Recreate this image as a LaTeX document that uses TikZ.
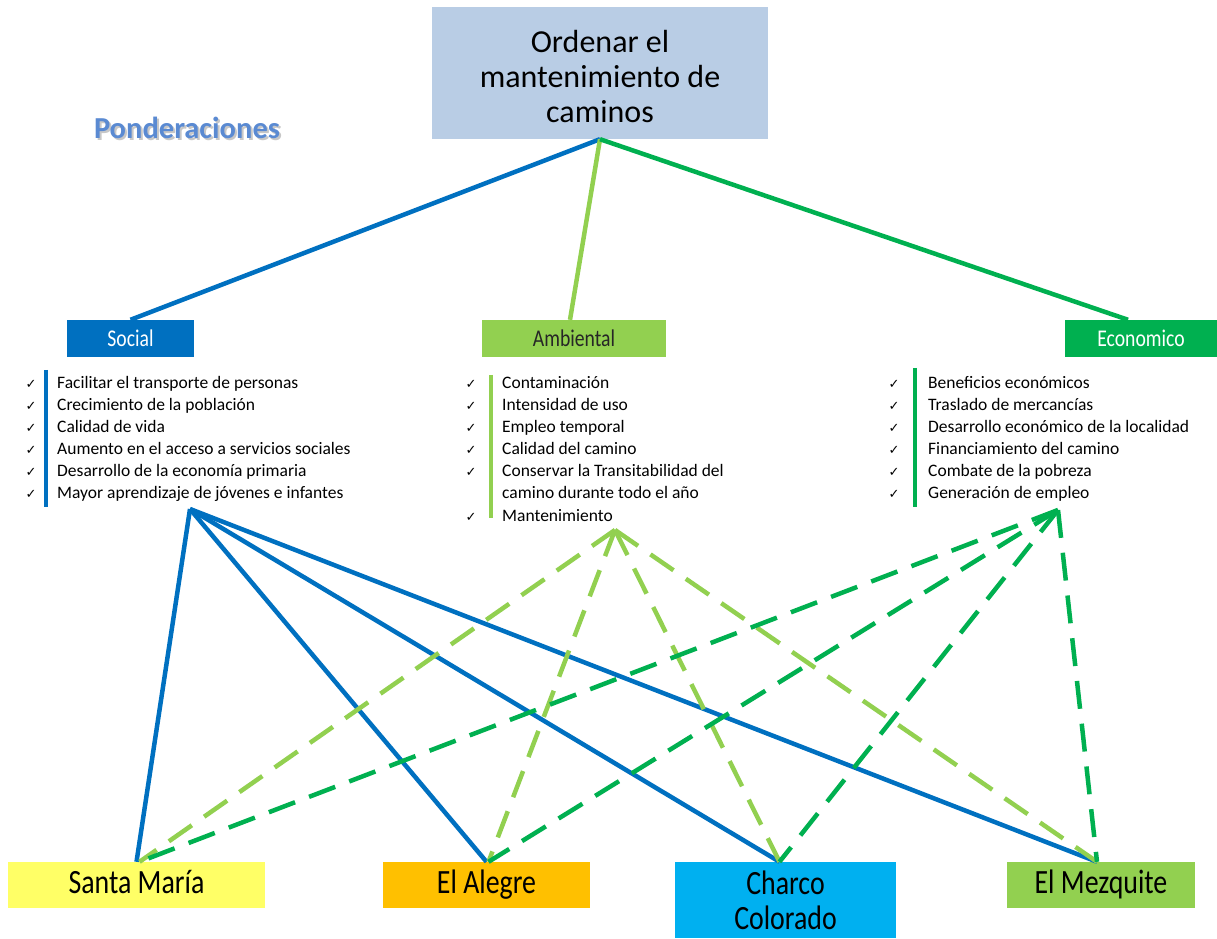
\documentclass[tikz,border=0pt]{standalone}
\usepackage{fontspec}
\setmainfont{Carlito}
\newfontfamily\narrowfont[FakeStretch=0.82]{Carlito}
\newfontfamily\symfont{DejaVu Sans}
\definecolor{topfill}{HTML}{B9CDE5}
\definecolor{cblue}{HTML}{0070C0}
\definecolor{clgreen}{HTML}{92D050}
\definecolor{cgreen}{HTML}{00B050}
\definecolor{cyellow}{HTML}{FFFF66}
\definecolor{corange}{HTML}{FFC000}
\definecolor{ccyan}{HTML}{00B0F0}
\definecolor{ptitle}{HTML}{5A8AD2}
\tikzset{
  catbox/.style={minimum height=37pt, inner sep=0pt, font=\narrowfont\fontsize{24}{26}\selectfont},
  placebox/.style={minimum height=46pt, inner sep=0pt, font=\narrowfont\fontsize{34}{35}\selectfont, align=center},
  oneline/.style={text height=23pt, text depth=7pt},
  link/.style={line width=4.5pt},
  dlink/.style={line width=4.5pt, dash pattern=on 28pt off 15pt},
  item/.style={anchor=base west, inner sep=0pt, font=\fontsize{17.5}{20}\selectfont},
  chk/.style={anchor=base, inner sep=0pt, font=\symfont\fontsize{13}{14}\selectfont},
}
\begin{document}
\begin{tikzpicture}[x=1pt,y=1pt]
\useasboundingbox (0,0) rectangle (1217,938);
% title
\node[font=\bfseries\fontsize{30.5}{34}\selectfont, text=black!22, inner sep=0pt] (ptsh) at (189,808) {Ponderaciones};
\node[font=\bfseries\fontsize{30.5}{34}\selectfont, text=ptitle, inner sep=0pt] (pt) at (187,810) {Ponderaciones};
% top box
\node[fill=topfill, minimum width=336pt, minimum height=132pt, inner sep=0pt] (top) at (600,865) {};
\node[align=center, inner sep=0pt, font=\fontsize{32}{35}\selectfont] (toptxt) at (600,861) {Ordenar el\\mantenimiento de\\caminos};
% categories
\node[catbox, fill=cblue, text=white, minimum width=127pt] (soc) at (130.5,599.5) {Social};
\node[catbox, fill=clgreen, text=black!85, minimum width=184pt] (amb) at (574,599.5) {Ambiental};
\node[catbox, fill=cgreen, text=white, minimum width=152pt] (eco) at (1141,599.5) {Economico};
% places
\node[placebox, oneline, fill=cyellow, minimum width=257pt] (sm) at (136.5,53) {Santa María};
\node[placebox, oneline, fill=corange, minimum width=207pt] (ea) at (486.5,53) {El Alegre};
\node[placebox, fill=ccyan, minimum width=221pt, minimum height=76pt] (cc) at (785.5,38) {Charco\\Colorado};
\node[placebox, oneline, fill=clgreen, minimum width=188pt] (em) at (1101,53) {El Mezquite};
% hubs
\coordinate (hs) at (190,429);
\coordinate (ha) at (615,408);
\coordinate (he) at (1058,428);
% top connectors
\draw[link, cblue] (top.south) -- (soc.north);
\draw[link, clgreen] (top.south) -- ([xshift=-4pt]amb.north);
\draw[link, cgreen] (top.south) -- ([xshift=-13pt]eco.north);
% bars
\draw[cblue, line width=4.5pt] (46,568) -- (46,431);
\draw[clgreen, line width=4.5pt] (491,563) -- (491,420);
\draw[cgreen, line width=4.5pt] (915,570) -- (915,431);
% social list
\foreach \t [count=\i from 0] in {Facilitar el transporte de personas,Crecimiento de la población,Calidad de vida,Aumento en el acceso a servicios sociales,Desarrollo de la economía primaria,Mayor aprendizaje de jóvenes e infantes}{
  \node[item] (s\i) at (57,549-22*\i) {\t};
  \node[chk] (sc\i) at (31,549-22*\i) {✓};
}
% ambiental list
\foreach \t [count=\i from 0] in {Contaminación,Intensidad de uso,Empleo temporal,Calidad del camino,Conservar la Transitabilidad del,camino durante todo el año,Mantenimiento}{
  \node[item] (a\i) at (502,549-22*\i) {\t};
}
\foreach \i in {0,1,2,3,4,6}{
  \node[chk] (ac\i) at (471,549-22*\i) {✓};
}
% economico list
\foreach \t [count=\i from 0] in {Beneficios económicos,Traslado de mercancías,Desarrollo económico de la localidad,Financiamiento del camino,Combate de la pobreza,Generación de empleo}{
  \node[item] (e\i) at (928,549-22*\i) {\t};
  \node[chk] (ec\i) at (894,549-22*\i) {✓};
}
% social links
\draw[link, cblue] (hs) -- (sm.north);
\draw[link, cblue] (hs) -- (ea.north);
\draw[link, cblue] (hs) -- ([xshift=-6pt]cc.north);
\draw[link, cblue] (hs) -- ([xshift=-4pt]em.north);
% ambiental links
\draw[dlink, clgreen] (ha) -- ([xshift=3pt]sm.north);
\draw[dlink, clgreen] (ha) -- ([xshift=2pt]ea.north);
\draw[dlink, clgreen] (ha) -- ([xshift=-6pt]cc.north);
\draw[dlink, clgreen] (ha) -- ([xshift=-4pt]em.north);
% economico links
\draw[dlink, cgreen] (he) -- ([xshift=3pt]sm.north);
\draw[dlink, cgreen] (he) -- ([xshift=2pt]ea.north);
\draw[dlink, cgreen] (he) -- ([xshift=-6pt]cc.north);
\draw[dlink, cgreen] (he) -- ([xshift=-4pt]em.north);
\end{tikzpicture}
\end{document}
